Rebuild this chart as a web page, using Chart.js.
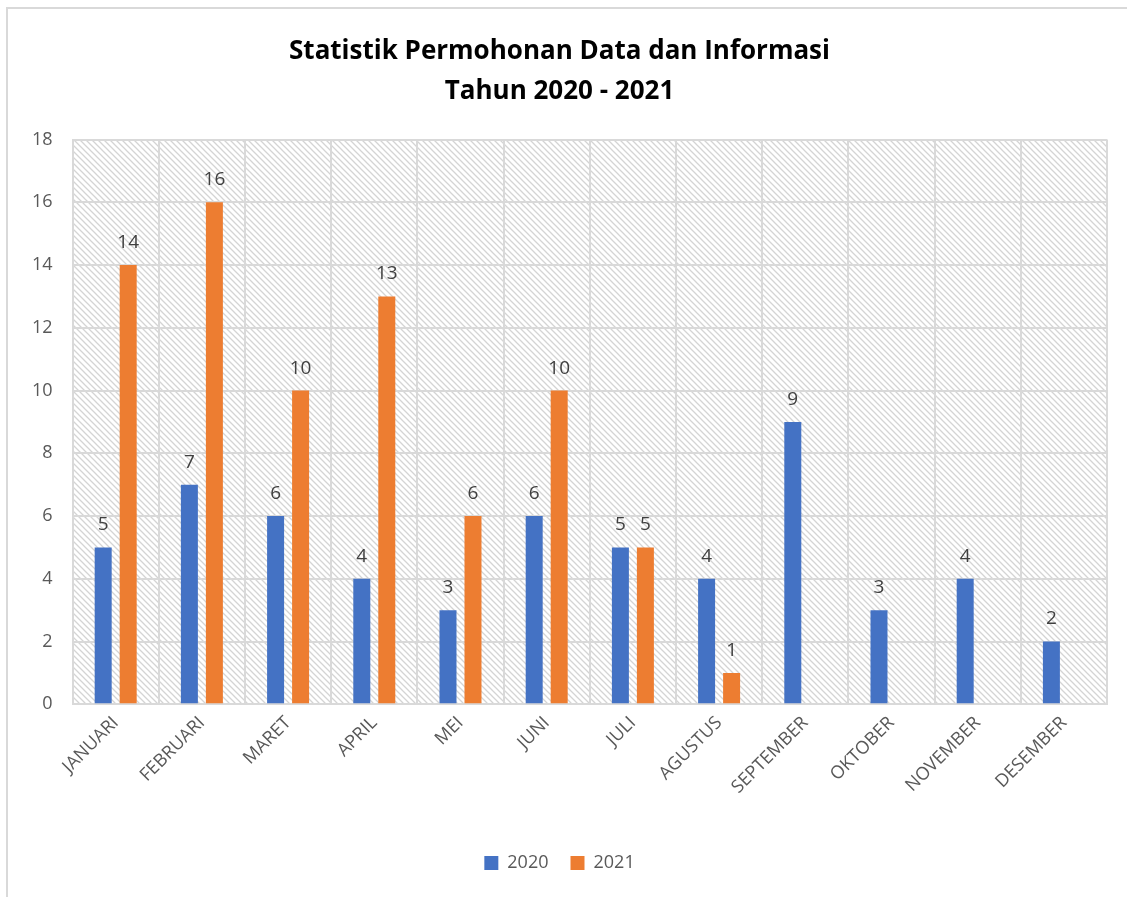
<!DOCTYPE html>
<html>
<head>
<meta charset="utf-8">
<script src="https://cdn.jsdelivr.net/npm/chart.js@4"></script>
<style>
  html, body { margin: 0; padding: 0; background: #fff; overflow: hidden; }
  #wrap { position: absolute; left: 0; top: 0; width: 1127px; height: 897px; }
  #frame { position: absolute; left: 6px; top: 7px; width: 1140px; height: 920px; border: 2px solid #d9d9d9; box-sizing: border-box; }
  #chart { position: absolute; left: 0; top: 0; }
</style>
</head>
<body>
<div id="wrap">
  <div id="frame"></div>
  <canvas id="chart" width="1127" height="897"></canvas>
</div>
<script>
// data
const months = ['JANUARI', 'FEBRUARI', 'MARET', 'APRIL', 'MEI', 'JUNI', 'JULI', 'AGUSTUS', 'SEPTEMBER', 'OKTOBER', 'NOVEMBER', 'DESEMBER'];
const data2020 = [5, 7, 6, 4, 3, 6, 5, 4, 9, 3, 4, 2];
const data2021 = [14, 16, 10, 13, 6, 10, 5, 1, null, null, null, null];
const titleLines = ['Statistik Permohonan Data dan Informasi', 'Tahun 2020 - 2021'];

const FONT = "'Open Sans', 'Noto Sans', sans-serif";

// diagonal hatch for the plot area
function makeHatch(ctx) {
    const c = document.createElement('canvas');
    c.width = 6; c.height = 6;
    const g = c.getContext('2d');
    g.fillStyle = '#ffffff';
    g.fillRect(0, 0, 6, 6);
    g.strokeStyle = '#d4d4d4';
    g.lineWidth = 1.3;
    g.beginPath();
    g.moveTo(0, 0); g.lineTo(6, 6);
    g.moveTo(-3, 3); g.lineTo(3, 9);
    g.moveTo(3, -3); g.lineTo(9, 3);
    g.stroke();
    return ctx.createPattern(c, 'repeat');
}

const hatchPlugin = {
    id: 'hatchBg',
    beforeDraw(chart) {
        const { ctx, chartArea: a } = chart;
        ctx.save();
        ctx.fillStyle = makeHatch(ctx);
        ctx.fillRect(a.left, a.top, a.right - a.left, a.bottom - a.top);
        ctx.restore();
    }
};

// value labels above bars
const valuePlugin = {
    id: 'values',
    afterDatasetsDraw(chart) {
        const ctx = chart.ctx;
        ctx.save();
        ctx.font = '19px ' + FONT;
        ctx.fillStyle = '#404040';
        ctx.textAlign = 'center';
        ctx.textBaseline = 'bottom';
        chart.data.datasets.forEach((ds, i) => {
            chart.getDatasetMeta(i).data.forEach((bar, j) => {
                const v = ds.data[j];
                if (v === null || v === undefined) return;
                ctx.fillText(String(v), bar.x, bar.y - 13);
            });
        });
        ctx.restore();
    }
};

new Chart(document.getElementById('chart'), {
    type: 'bar',
    data: {
        labels: months,
        datasets: [
            {
                label: '2020',
                data: data2020,
                backgroundColor: '#4472c4',
                categoryPercentage: 0.58,
                barPercentage: 0.68
            },
            {
                label: '2021',
                data: data2021,
                backgroundColor: '#ed7d31',
                categoryPercentage: 0.58,
                barPercentage: 0.68
            }
        ]
    },
    options: {
        responsive: false,
        animation: false,
        layout: {
            padding: { left: 12, right: 20, top: 31, bottom: 15 }
        },
        plugins: {
            title: {
                display: true,
                text: titleLines,
                color: '#000000',
                font: { family: FONT, size: 26, weight: 'bold', lineHeight: 1.55 },
                padding: { top: 0, bottom: 28 }
            },
            legend: {
                position: 'bottom',
                labels: {
                    color: '#595959',
                    font: { family: FONT, size: 18 },
                    boxWidth: 14,
                    boxHeight: 14,
                    padding: 22
                }
            },
            tooltip: { enabled: false }
        },
        scales: {
            y: {
                min: 0,
                max: 18,
                ticks: {
                    stepSize: 2,
                    color: '#595959',
                    font: { family: FONT, size: 18 },
                    padding: 20
                },
                grid: { color: '#d9d9d9', lineWidth: 2, drawTicks: false },
                border: { color: '#d9d9d9', width: 2 }
            },
            x: {
                afterFit(scale) {
                    // extra room between rotated labels and legend
                    scale.height += 26;
                },
                ticks: {
                    color: '#595959',
                    font: { family: FONT, size: 18 },
                    minRotation: 45,
                    maxRotation: 45,
                    padding: 8
                },
                grid: { color: '#d9d9d9', lineWidth: 2, drawTicks: false },
                border: { color: '#d9d9d9', width: 2 }
            }
        }
    },
    plugins: [hatchPlugin, valuePlugin]
});
</script>
</body>
</html>
